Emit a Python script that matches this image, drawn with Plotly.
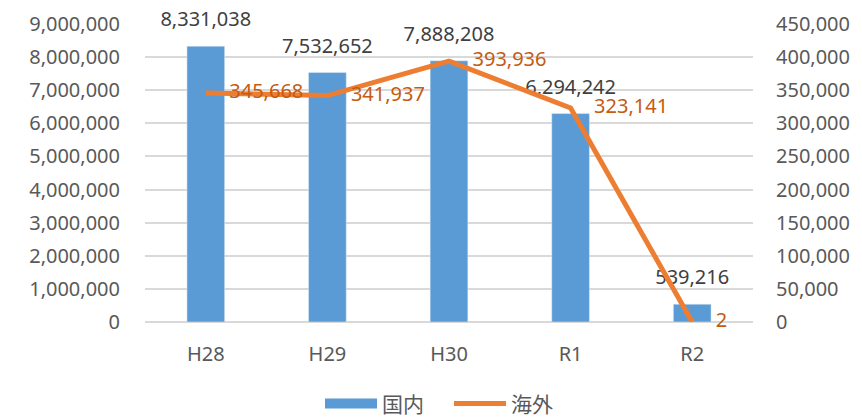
import plotly.graph_objects as go

categories = ["H28", "H29", "H30", "R1", "R2"]
domestic = [8331038, 7532652, 7888208, 6294242, 539216]
overseas = [345668, 341937, 393936, 323141, 2]

BLUE = "#5B9BD5"
ORANGE = "#ED7D31"
FONT = "Noto Sans, Noto Sans CJK JP, sans-serif"
CLEAR = "rgba(0,0,0,0)"

fig = go.Figure()
fig.add_trace(go.Bar(
    x=categories, y=domestic, name="国内", marker=dict(color=BLUE),
    showlegend=False, yaxis="y",
))
# bar value labels
fig.add_trace(go.Scatter(
    x=categories, y=domestic, mode="markers+text",
    marker=dict(size=22, color=CLEAR),
    texttemplate="%{y:,.0f}", textposition="top center", cliponaxis=False,
    textfont=dict(color="#404040", size=20, family=FONT),
    showlegend=False, yaxis="y",
))
fig.add_trace(go.Scatter(
    x=categories, y=overseas, name="海外", mode="lines+markers+text",
    line=dict(color=ORANGE, width=5),
    marker=dict(size=36, color=CLEAR),
    texttemplate="%{y:,.0f}", textposition="middle right", cliponaxis=False,
    textfont=dict(color="#C55A11", size=20, family=FONT),
    showlegend=False, yaxis="y2",
))
# legend entries
fig.add_trace(go.Scatter(x=[None], y=[None], name="国内", mode="lines",
                         line=dict(color=BLUE, width=13), yaxis="y"))
fig.add_trace(go.Scatter(x=[None], y=[None], name="海外", mode="lines",
                         line=dict(color=ORANGE, width=5), yaxis="y2"))

fig.update_layout(
    width=854, height=409,
    margin=dict(l=137, r=109, t=16, b=95, autoexpand=False),
    paper_bgcolor="white", plot_bgcolor="white",
    font=dict(family=FONT, size=20, color="#595959"),
    bargap=0.69,
    showlegend=True,
    legend=dict(orientation="h", x=0.50, xanchor="center", y=-0.275, yanchor="middle",
                font=dict(size=21, color="#595959"), itemwidth=52,
                entrywidth=62, entrywidthmode="pixels", traceorder="normal"),
    xaxis=dict(showgrid=False, showline=False, ticks="", ticklabelstandoff=18,
               tickfont=dict(size=20, color="#595959")),
    yaxis=dict(range=[0, 9000000], dtick=1000000, tickformat=",",
               showgrid=True, gridcolor="#D9D9D9", gridwidth=1.5,
               zeroline=True, zerolinecolor="#D9D9D9", zerolinewidth=1.5,
               showline=False, ticks="", ticklabelstandoff=24,
               tickfont=dict(size=20, color="#595959")),
    yaxis2=dict(range=[0, 450000], dtick=50000, tickformat=",", overlaying="y",
                side="right", showgrid=False, zeroline=False, showline=False,
                ticks="", ticklabelstandoff=22,
                tickfont=dict(size=20, color="#595959")),
    hovermode=False,
)

fig.write_html("out.html")
